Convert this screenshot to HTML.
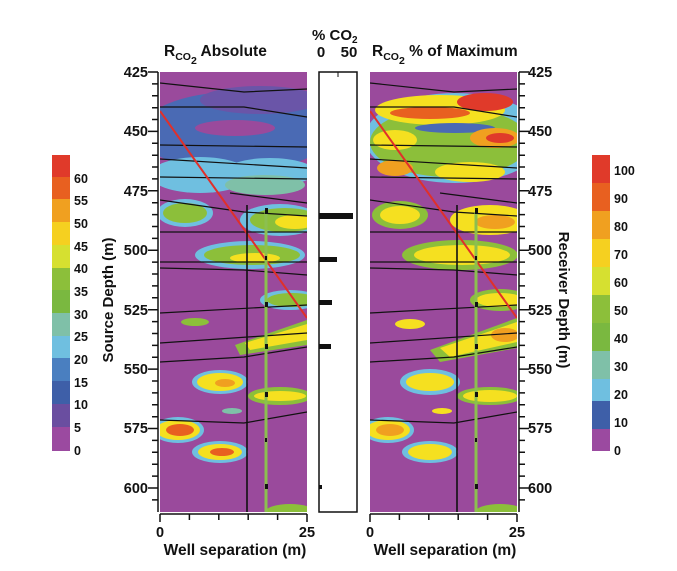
<!DOCTYPE html>
<html><head><meta charset="utf-8"><style>
html,body{margin:0;padding:0;background:#fff;}
svg{display:block;font-family:"Liberation Sans",Arial,sans-serif;font-weight:bold;}
</style></head><body>
<svg width="677" height="571" viewBox="0 0 677 571" xmlns="http://www.w3.org/2000/svg">
<defs>
<clipPath id="cl"><rect x="160" y="72" width="147" height="440"/></clipPath>
<clipPath id="cr"><rect x="370" y="72" width="147" height="440"/></clipPath>
<g id="lines">
<polyline points="0,11 84,20 147,17" fill="none" stroke="#111" stroke-width="1.2"/>
<polyline points="0,35 84,35 147,45" fill="none" stroke="#111" stroke-width="1.2"/>
<polyline points="0,73 147,75" fill="none" stroke="#111" stroke-width="1.2"/>
<polyline points="0,87 147,96" fill="none" stroke="#111" stroke-width="1.2"/>
<polyline points="0,105 147,107" fill="none" stroke="#111" stroke-width="1.2"/>
<polyline points="70,121 147,131" fill="none" stroke="#111" stroke-width="1.2"/>
<polyline points="0,128 84,140 147,144" fill="none" stroke="#111" stroke-width="1.2"/>
<polyline points="0,160 147,160" fill="none" stroke="#111" stroke-width="1.2"/>
<polyline points="0,190 147,190" fill="none" stroke="#111" stroke-width="1.2"/>
<polyline points="0,196 84,198 147,203" fill="none" stroke="#111" stroke-width="1.2"/>
<polyline points="0,241 147,233" fill="none" stroke="#111" stroke-width="1.2"/>
<polyline points="0,271 147,261" fill="none" stroke="#111" stroke-width="1.2"/>
<polyline points="0,290 84,285 147,275" fill="none" stroke="#111" stroke-width="1.2"/>
<polyline points="0,348 84,351 147,340" fill="none" stroke="#111" stroke-width="1.2"/>
<line x1="0" y1="39" x2="147" y2="246" stroke="#e0302a" stroke-width="2"/>
<line x1="87" y1="133" x2="87" y2="440" stroke="#111" stroke-width="1.6"/>
<line x1="106" y1="140" x2="106" y2="440" stroke="#8cbf50" stroke-width="3"/>
<g fill="#111"><rect x="105" y="136" width="3" height="6"/><rect x="105" y="184" width="2" height="4"/><rect x="105" y="230" width="3" height="5"/><rect x="105" y="272" width="3" height="5"/><rect x="105" y="320" width="3" height="5"/><rect x="105" y="366" width="2" height="4"/><rect x="105" y="412" width="3" height="5"/></g>
</g>
</defs>

<!-- LEFT PANEL -->
<g clip-path="url(#cl)">
<rect x="160" y="72" width="147" height="440" fill="#9a4a9c"/>
<ellipse cx="235" cy="132" rx="95" ry="40" fill="#4a6ab4"/>
<ellipse cx="260" cy="100" rx="60" ry="14" fill="#6a55a8"/>
<ellipse cx="235" cy="128" rx="40" ry="8" fill="#9a4a9c"/>
<ellipse cx="200" cy="175" rx="50" ry="18" fill="#6fbfe0"/>
<ellipse cx="270" cy="172" rx="45" ry="14" fill="#6fbfe0"/>
<ellipse cx="265" cy="185" rx="40" ry="10" fill="#7fc0a8"/>
<ellipse cx="185" cy="213" rx="28" ry="14" fill="#6fbfe0"/>
<ellipse cx="185" cy="213" rx="22" ry="10" fill="#8cbf3a"/>
<ellipse cx="280" cy="220" rx="40" ry="16" fill="#6fbfe0"/>
<ellipse cx="285" cy="220" rx="35" ry="12" fill="#8cbf3a"/>
<ellipse cx="295" cy="222" rx="20" ry="7" fill="#f5e020"/>
<ellipse cx="250" cy="255" rx="55" ry="14" fill="#6fbfe0"/>
<ellipse cx="252" cy="255" rx="48" ry="10" fill="#8cbf3a"/>
<ellipse cx="255" cy="258" rx="25" ry="5" fill="#f5e020"/>
<ellipse cx="290" cy="300" rx="30" ry="10" fill="#6fbfe0"/>
<ellipse cx="292" cy="300" rx="25" ry="7" fill="#8cbf3a"/>
<ellipse cx="195" cy="322" rx="14" ry="4" fill="#8cbf3a"/>
<polygon points="235,345 307,320 307,345 240,355" fill="#8cbf3a"/>
<polygon points="245,343 307,324 307,340 250,350" fill="#f5e020"/>
<ellipse cx="220" cy="382" rx="28" ry="12" fill="#6fbfe0"/>
<ellipse cx="220" cy="382" rx="23" ry="9" fill="#f5e020"/>
<ellipse cx="225" cy="383" rx="10" ry="4" fill="#f0a020"/>
<ellipse cx="280" cy="396" rx="32" ry="9" fill="#8cbf3a"/>
<ellipse cx="280" cy="396" rx="26" ry="5" fill="#f5e020"/>
<ellipse cx="232" cy="411" rx="10" ry="3" fill="#7fc0a8"/>
<ellipse cx="178" cy="430" rx="26" ry="13" fill="#6fbfe0"/>
<ellipse cx="178" cy="430" rx="22" ry="10" fill="#f5e020"/>
<ellipse cx="180" cy="430" rx="14" ry="6" fill="#e86020"/>
<ellipse cx="220" cy="452" rx="28" ry="11" fill="#6fbfe0"/>
<ellipse cx="220" cy="452" rx="22" ry="8" fill="#f5e020"/>
<ellipse cx="222" cy="452" rx="12" ry="4" fill="#e86020"/>
<ellipse cx="290" cy="512" rx="25" ry="8" fill="#8cbf3a"/>
<use href="#lines" x="160" y="72"/>
</g>

<!-- RIGHT PANEL -->
<g clip-path="url(#cr)">
<rect x="370" y="72" width="147" height="440" fill="#9a4a9c"/>
<ellipse cx="455" cy="138" rx="90" ry="45" fill="#6fbfe0"/>
<ellipse cx="450" cy="142" rx="80" ry="35" fill="#8cbf3a"/>
<ellipse cx="440" cy="110" rx="65" ry="15" fill="#f5e020"/>
<ellipse cx="430" cy="113" rx="40" ry="6" fill="#e86020"/>
<ellipse cx="485" cy="102" rx="28" ry="9" fill="#e03a2a"/>
<ellipse cx="455" cy="128" rx="40" ry="5" fill="#4a6ab4"/>
<ellipse cx="495" cy="138" rx="25" ry="10" fill="#f0a020"/>
<ellipse cx="500" cy="138" rx="14" ry="5" fill="#e03a2a"/>
<ellipse cx="395" cy="140" rx="22" ry="10" fill="#f5e020"/>
<ellipse cx="470" cy="172" rx="35" ry="10" fill="#f5e020"/>
<ellipse cx="395" cy="168" rx="18" ry="8" fill="#f0a020"/>
<ellipse cx="400" cy="215" rx="28" ry="14" fill="#8cbf3a"/>
<ellipse cx="400" cy="215" rx="20" ry="9" fill="#f5e020"/>
<ellipse cx="490" cy="220" rx="40" ry="15" fill="#f5e020"/>
<ellipse cx="495" cy="222" rx="20" ry="7" fill="#f0a020"/>
<ellipse cx="460" cy="255" rx="58" ry="15" fill="#8cbf3a"/>
<ellipse cx="462" cy="255" rx="48" ry="10" fill="#f5e020"/>
<ellipse cx="500" cy="300" rx="30" ry="11" fill="#8cbf3a"/>
<ellipse cx="500" cy="300" rx="24" ry="7" fill="#f5e020"/>
<ellipse cx="410" cy="324" rx="15" ry="5" fill="#f5e020"/>
<polygon points="430,350 517,318 517,348 440,362" fill="#8cbf3a"/>
<polygon points="440,348 517,322 517,342 450,357" fill="#f5e020"/>
<ellipse cx="505" cy="335" rx="14" ry="7" fill="#f0a020"/>
<ellipse cx="430" cy="382" rx="30" ry="13" fill="#6fbfe0"/>
<ellipse cx="430" cy="382" rx="24" ry="9" fill="#f5e020"/>
<ellipse cx="490" cy="396" rx="33" ry="9" fill="#8cbf3a"/>
<ellipse cx="490" cy="396" rx="27" ry="6" fill="#f5e020"/>
<ellipse cx="442" cy="411" rx="10" ry="3" fill="#f5e020"/>
<ellipse cx="388" cy="430" rx="26" ry="13" fill="#6fbfe0"/>
<ellipse cx="388" cy="430" rx="22" ry="10" fill="#f5e020"/>
<ellipse cx="390" cy="430" rx="14" ry="6" fill="#f0a020"/>
<ellipse cx="430" cy="452" rx="28" ry="11" fill="#6fbfe0"/>
<ellipse cx="430" cy="452" rx="22" ry="8" fill="#f5e020"/>
<ellipse cx="500" cy="512" rx="25" ry="8" fill="#8cbf3a"/>
<use href="#lines" x="370" y="72"/>
</g>

<!-- Middle box -->
<rect x="319" y="72" width="38" height="440" fill="#fff" stroke="#111" stroke-width="1.5"/>
<line x1="338" y1="72" x2="338" y2="77" stroke="#111"/>
<g fill="#111">
<rect x="319" y="213" width="34" height="6"/>
<rect x="319" y="257" width="18" height="5"/>
<rect x="319" y="300" width="13" height="5"/>
<rect x="319" y="344" width="12" height="5"/>
<rect x="319" y="485" width="3" height="4"/>
</g>

<!-- Axes ticks -->
<g stroke="#111" stroke-width="1.5">
<line x1="158" y1="72" x2="158" y2="512"/>
<line x1="160" y1="514" x2="307" y2="514"/>
<line x1="519" y1="72" x2="519" y2="512"/>
<line x1="370" y1="514" x2="517" y2="514"/>
</g>
<g stroke="#111" stroke-width="1.5" id="ticks">
<path d="M148 72h10M148 131.4h10M148 190.8h10M148 250.3h10M148 309.7h10M148 369.1h10M148 428.5h10M148 488h10
M152 83.9h6M152 95.8h6M152 107.7h6M152 119.5h6M152 143.3h6M152 155.2h6M152 167h6M152 178.9h6M152 202.7h6M152 214.6h6M152 226.5h6M152 238.4h6M152 262.1h6M152 274h6M152 285.9h6M152 297.8h6M152 321.6h6M152 333.5h6M152 345.4h6M152 357.2h6M152 381h6M152 392.9h6M152 404.8h6M152 416.7h6M152 440.4h6M152 452.3h6M152 464.2h6M152 476.1h6M152 499.9h6"/>
</g>
<use href="#ticks" transform="translate(677,0) scale(-1,1)" x="0"/>
<g stroke="#111" stroke-width="1.5">
<path d="M160 514v8M189.4 514v6M218.8 514v6M248.2 514v6M277.6 514v6M307 514v8"/>
<path d="M370 514v8M399.4 514v6M428.8 514v6M458.2 514v6M487.6 514v6M517 514v8"/>
</g>

<!-- Labels -->
<g font-size="14.5" fill="#111">
<g text-anchor="end">
<text x="148" y="77">425</text><text x="148" y="136">450</text><text x="148" y="196">475</text><text x="148" y="255">500</text><text x="148" y="315">525</text><text x="148" y="374">550</text><text x="148" y="433">575</text><text x="148" y="493">600</text>
</g>
<g text-anchor="start">
<text x="528" y="77">425</text><text x="528" y="136">450</text><text x="528" y="196">475</text><text x="528" y="255">500</text><text x="528" y="315">525</text><text x="528" y="374">550</text><text x="528" y="433">575</text><text x="528" y="493">600</text>
</g>
<g text-anchor="middle">
<text x="160" y="537">0</text><text x="307" y="537">25</text>
<text x="370" y="537">0</text><text x="517" y="537">25</text>
<text x="235" y="555" font-size="15.5">Well separation (m)</text>
<text x="445" y="555" font-size="15.5">Well separation (m)</text>
<text x="321" y="57" font-size="15">0</text><text x="349" y="57" font-size="15">50</text>
</g>
<text x="312" y="40" font-size="15">% CO<tspan font-size="10" dy="3">2</tspan></text>
<text x="164" y="56" font-size="15.5">R<tspan font-size="10.5" dy="4">CO</tspan><tspan font-size="10.5" dy="4">2</tspan><tspan dy="-8"> Absolute</tspan></text>
<text x="372" y="56" font-size="15.5">R<tspan font-size="10.5" dy="4">CO</tspan><tspan font-size="10.5" dy="4">2</tspan><tspan dy="-8"> % of Maximum</tspan></text>
<text transform="translate(113,300) rotate(-90)" text-anchor="middle" font-size="15">Source Depth (m)</text>
<text transform="translate(559,300) rotate(90)" text-anchor="middle" font-size="15">Receiver Depth (m)</text>
</g>

<!-- Left colorbar -->
<g>
<rect x="52" y="155" width="18" height="23" fill="#e03a2a"/>
<rect x="52" y="177" width="18" height="23" fill="#e86020"/>
<rect x="52" y="199" width="18" height="23" fill="#f0a020"/>
<rect x="52" y="222" width="18" height="23" fill="#f5d020"/>
<rect x="52" y="245" width="18" height="23" fill="#d6e030"/>
<rect x="52" y="268" width="18" height="23" fill="#8cbf3a"/>
<rect x="52" y="290" width="18" height="23" fill="#7ab840"/>
<rect x="52" y="313" width="18" height="23" fill="#7fc0a8"/>
<rect x="52" y="336" width="18" height="23" fill="#6fbfe0"/>
<rect x="52" y="358" width="18" height="23" fill="#4a7fc0"/>
<rect x="52" y="381" width="18" height="23" fill="#3e5fa8"/>
<rect x="52" y="404" width="18" height="23" fill="#6a4ea0"/>
<rect x="52" y="427" width="18" height="24" fill="#9b4aa0"/>
</g>
<g font-size="12.5" fill="#111">
<text x="74" y="183">60</text><text x="74" y="205">55</text><text x="74" y="228">50</text><text x="74" y="251">45</text><text x="74" y="273">40</text><text x="74" y="296">35</text><text x="74" y="319">30</text><text x="74" y="341">25</text><text x="74" y="364">20</text><text x="74" y="387">15</text><text x="74" y="409">10</text><text x="74" y="432">5</text><text x="74" y="455">0</text>
</g>

<!-- Right colorbar -->
<g>
<rect x="592" y="155" width="18" height="29" fill="#e03a2a"/>
<rect x="592" y="183" width="18" height="29" fill="#e86020"/>
<rect x="592" y="211" width="18" height="29" fill="#f0a020"/>
<rect x="592" y="239" width="18" height="29" fill="#f5d020"/>
<rect x="592" y="267" width="18" height="29" fill="#d6e030"/>
<rect x="592" y="295" width="18" height="29" fill="#8cbf3a"/>
<rect x="592" y="323" width="18" height="29" fill="#7ab840"/>
<rect x="592" y="351" width="18" height="29" fill="#7fc0a8"/>
<rect x="592" y="379" width="18" height="23" fill="#6fbfe0"/>
<rect x="592" y="401" width="18" height="29" fill="#3e5fa8"/>
<rect x="592" y="429" width="18" height="22" fill="#9b4aa0"/>
</g>
<g font-size="12.5" fill="#111">
<text x="614" y="175">100</text><text x="614" y="203">90</text><text x="614" y="231">80</text><text x="614" y="259">70</text><text x="614" y="287">60</text><text x="614" y="315">50</text><text x="614" y="343">40</text><text x="614" y="371">30</text><text x="614" y="399">20</text><text x="614" y="427">10</text><text x="614" y="455">0</text>
</g>
</svg>
</body></html>
